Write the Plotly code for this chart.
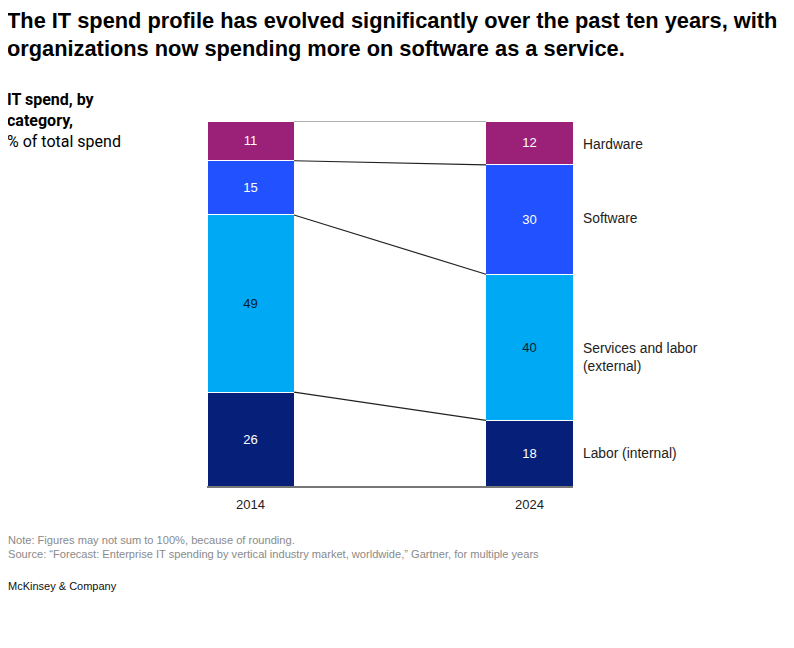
import numpy as np
import plotly.graph_objects as go

# IT spend by category, % of total spend
years = ["2014", "2024"]
categories = ["Labor (internal)", "Services and labor<br>(external)", "Software", "Hardware"]
labor_internal = [26, 18]
services_external = [49, 40]
software = [15, 30]
hardware = [11, 12]

series = [labor_internal, services_external, software, hardware]
colors = ["#061F79", "#00A9F4", "#2251FF", "#9B2077"]
text_colors = ["white", "#051C2C", "white", "white"]
label_shift = [0, -10, 1, -2]  # small vertical nudges of the right-hand labels

x_pos = [0, 1]
bar_w = 0.312
font = "Liberation Sans, Arial, sans-serif"

fig = go.Figure()

for name, vals, col, tcol in zip(categories, series, colors, text_colors):
    fig.add_trace(go.Bar(
        x=x_pos,
        y=vals,
        width=bar_w,
        name=name,
        marker=dict(color=col, line=dict(color="white", width=1)),
        text=vals,
        texttemplate="%{text}",
        textposition="inside",
        insidetextanchor="middle",
        textangle=0,
        constraintext="none",
        textfont=dict(color=tcol, size=13, family=font),
        hoverinfo="skip",
    ))

# connector lines between stack boundaries (shares normalised per year)
data = np.array(series, dtype=float)
shares = data / data.sum(axis=0) * 100
cum = np.vstack([np.zeros(2), np.cumsum(shares, axis=0)])
for k in range(1, cum.shape[0]):
    top = k == cum.shape[0] - 1
    fig.add_trace(go.Scatter(
        x=[bar_w / 2, 1 - bar_w / 2],
        y=[cum[k, 0], cum[k, 1]],
        mode="lines",
        line=dict(color="#666666" if top else "#222222", width=1.2),
        hoverinfo="skip",
        showlegend=False,
    ))

# category labels to the right of the 2024 bar
for k, name in enumerate(categories):
    fig.add_annotation(
        x=1 + bar_w / 2, y=(cum[k, 1] + cum[k + 1, 1]) / 2,
        xref="x", yref="y", xanchor="left", yanchor="middle",
        xshift=8, yshift=label_shift[k], text=name, showarrow=False, align="left",
        font=dict(size=13.8, color="#222222", family=font),
    )

# page is offset by the body margin, so positions are measured minus 8 px
OFF = 8
L, T, B, W, H = 207 - OFF, 121 - OFF, 486 - OFF, 794, 648
R = 573 - OFF
pw = R - L
ph = B - T


def px(x):
    return (x - OFF - L) / pw


def py(y):
    return (B - (y - OFF)) / ph


fig.add_annotation(
    x=px(5), y=py(34.5), xref="paper", yref="paper", xanchor="left", yanchor="middle",
    text="<b>The IT spend profile has evolved significantly over the past ten years, with<br>"
         "organizations now spending more on software as a service.</b>",
    showarrow=False, align="left",
    font=dict(size=21.8, color="#000000", family="Liberation Sans, Arial, sans-serif"),
)
fig.add_annotation(
    x=px(5), y=py(120.5), xref="paper", yref="paper", xanchor="left", yanchor="middle",
    text="<b>IT spend, by<br>category,</b><br>% of total spend",
    showarrow=False, align="left",
    font=dict(size=16, color="#000000", family="Roboto, sans-serif"),
)
fig.add_annotation(
    x=px(6), y=py(546.5), xref="paper", yref="paper", xanchor="left", yanchor="middle",
    text="Note: Figures may not sum to 100%, because of rounding.<br>"
         "Source: \u201cForecast: Enterprise IT spending by vertical industry market, worldwide,\u201d Gartner, for multiple years",
    showarrow=False, align="left",
    font=dict(size=11.1, color="#8a8a8a", family=font),
)
fig.add_annotation(
    x=px(6), y=py(586), xref="paper", yref="paper", xanchor="left", yanchor="middle",
    text="McKinsey & Company",
    showarrow=False, align="left",
    font=dict(size=11, color="#111111", family=font),
)

fig.update_layout(
    barmode="stack",
    barnorm="percent",
    width=W, height=H,
    margin=dict(l=L, r=W - R, t=T, b=H - B, pad=0),
    paper_bgcolor="white",
    plot_bgcolor="white",
    showlegend=False,
    xaxis=dict(
        range=[-bar_w / 2, 1 + bar_w / 2],
        tickvals=x_pos, ticktext=years,
        showgrid=False, zeroline=False,
        showline=True, linecolor="#777777", linewidth=2,
        ticks="", ticklabelstandoff=5,
        tickfont=dict(size=13, color="#222222", family=font),
    ),
    yaxis=dict(range=[0, 100], visible=False),
)

fig.write_html("out.html")
